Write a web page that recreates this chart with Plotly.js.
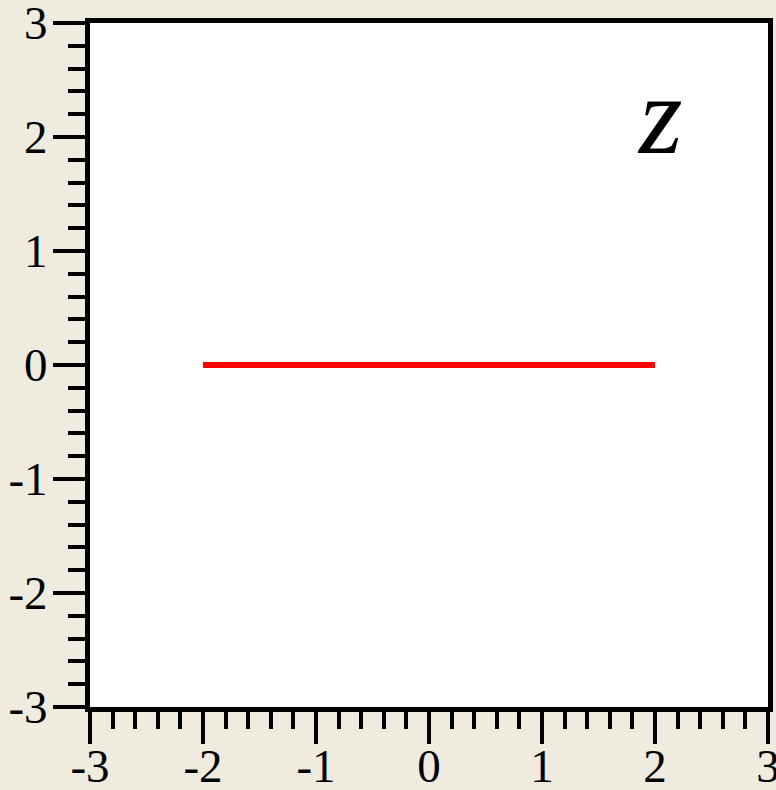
<!DOCTYPE html>
<html>
<head>
<meta charset="utf-8">
<script src="https://cdn.plot.ly/plotly-3.0.1.min.js"></script>
<style>
  html, body { margin: 0; padding: 0; background: #efebdf; }
  #chart { width: 776px; height: 790px; }
</style>
</head>
<body>
<div id="chart"></div>
<script>
// Segment of the real axis drawn in the z-plane
const segX = [-2, 2];
const segY = [0, 0];

// Axis ticks and their labels (plain hyphen for negatives)
const tickVals = [-3, -2, -1, 0, 1, 2, 3];
const tickText = ["-3", "-2", "-1", "0", "1", "2", "3"];

const serif = "Liberation Serif";
const labelFont = { family: serif, size: 47, color: "#000" };

function axis(standoff) {
  return {
    range: [-3, 3],
    showline: true,
    linecolor: "#000",
    linewidth: 5,
    mirror: true,
    showgrid: false,
    zeroline: false,
    tickmode: "array",
    tickvals: tickVals,
    ticktext: tickText,
    ticks: "outside",
    ticklen: 32,
    tickwidth: 4,
    tickcolor: "#000",
    ticklabelstandoff: standoff,
    ticklabeloverflow: "allow",
    tickfont: labelFont,
    minor: {
      tickmode: "linear",
      tick0: -3,
      dtick: 0.2,
      ticks: "outside",
      ticklen: 17,
      tickwidth: 4,
      tickcolor: "#000",
      showgrid: false
    },
    fixedrange: true
  };
}

const trace = {
  x: segX,
  y: segY,
  mode: "lines",
  line: { color: "#ff0000", width: 6 },
  hoverinfo: "skip",
  showlegend: false,
  cliponaxis: false
};

const layout = {
  width: 776,
  height: 790,
  margin: { l: 90, r: 8, t: 23, b: 83, autoexpand: false },
  paper_bgcolor: "#efebdf",
  plot_bgcolor: "#ffffff",
  xaxis: axis(-18),
  yaxis: axis(-4),
  annotations: [{
    x: 2.04, y: 2.19, xref: "x", yref: "y",
    text: "<i>z</i>",
    showarrow: false,
    font: { family: serif, size: 112, color: "#000" }
  }]
};

Plotly.newPlot("chart", [trace], layout, { staticPlot: true, displayModeBar: false });
</script>
</body>
</html>
